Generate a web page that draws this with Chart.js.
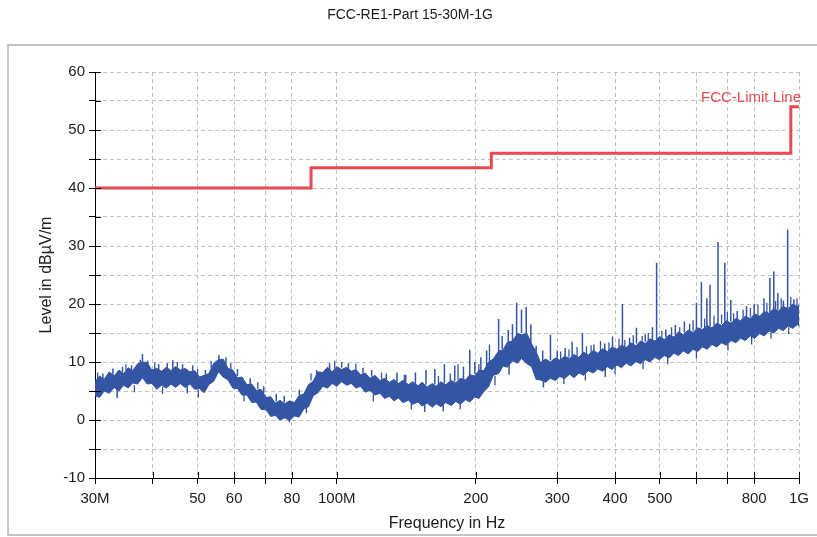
<!DOCTYPE html>
<html>
<head>
<meta charset="utf-8">
<script src="https://cdn.jsdelivr.net/npm/chart.js@4.4.1/dist/chart.umd.min.js"></script>
<style>
  html, body { margin: 0; padding: 0; background: #fff; }
  #wrap { position: relative; width: 817px; height: 537px; }
</style>
</head>
<body>
<div id="wrap"><canvas id="chart"></canvas></div>
<script>
const chartTitle = "FCC-RE1-Part 15-30M-1G";
const limitName = "FCC-Limit Line";

// x axis ticks (MHz) and their labels
const xTickValues = [30, 40, 50, 60, 70, 80, 100, 200, 300, 400, 500, 600, 700, 800, 1000];
const xTickLabels = ["30M", "", "50", "60", "", "80", "100M", "200", "300", "400", "500", "", "", "800", "1G"];

// limit line, stepped
const limitFreqs = [30, 88, 216, 960, 1000];
const limitLevels = [40, 43.5, 46, 54, 54];

// measured trace: lower and upper edge of the noise band
const freqMHz = [
  30, 30.7, 31.4, 32.2, 33.0, 33.8, 34.6, 35.4, 36.2, 37.1,
  38.0, 38.9, 39.8, 40.8, 41.8, 42.8, 43.8, 44.8, 45.9, 47.0,
  48.1, 49.3, 50.5, 51.7, 52.9, 54.2, 55.5, 56.8, 58.2, 59.6,
  61.0, 62.4, 63.9, 65.5, 67.0, 68.6, 70.3, 72.0, 73.7, 75.4,
  77.2, 79.1, 81.0, 82.9, 84.9, 86.9, 89.0, 91.1, 93.3, 95.5,
  97.8, 100, 102.5, 105, 107.5, 110, 112.6, 115.3, 118, 121,
  124, 127, 130, 133, 136, 139, 143, 146, 150, 153,
  157, 161, 164, 168, 172, 177, 181, 185, 190, 194,
  199, 203, 208, 213, 218, 224, 229, 234, 240, 246,
  251, 258, 264, 270, 276, 283, 290, 297, 304, 311,
  319, 326, 334, 342, 350, 359, 367, 376, 385, 394,
  404, 413, 423, 433, 444, 454, 465, 476, 488, 499,
  511, 524, 536, 549, 562, 576, 590, 604, 618, 633,
  648, 664, 680, 696, 713, 730, 747, 765, 784, 802,
  822, 841, 861, 882, 903, 925, 947, 970, 993, 1000
];
const bandLow = [
  4.2, 3.9, 5.0, 4.6, 5.6, 5.0, 6.0, 5.5, 6.4, 6.2,
  7.3, 6.2, 6.3, 5.3, 6.0, 5.5, 6.2, 5.6, 6.3, 5.6,
  6.2, 5.3, 5.4, 4.7, 6.1, 6.7, 8.3, 7.4, 6.9, 5.5,
  5.4, 4.3, 4.3, 3.0, 3.1, 1.8, 1.8, 0.6, 0.8, 0.0,
  0.4, -0.1, 0.7, 0.5, 1.9, 2.3, 4.2, 4.7, 5.8, 5.5,
  6.3, 5.8, 6.6, 6.0, 6.3, 5.5, 5.8, 4.8, 5.1, 4.3,
  4.6, 3.7, 4.1, 3.3, 3.8, 3.0, 3.4, 2.7, 3.1, 2.4,
  2.9, 2.2, 2.8, 2.3, 3.0, 2.5, 3.2, 2.7, 3.5, 3.1,
  4.0, 3.7, 4.9, 5.7, 7.7, 8.0, 9.3, 9.1, 10.2, 9.8,
  10.6, 9.7, 9.2, 7.0, 6.9, 6.5, 7.2, 6.8, 7.5, 7.1,
  7.9, 7.3, 8.1, 7.7, 8.5, 8.1, 8.8, 8.4, 9.2, 8.7,
  9.5, 9.0, 9.8, 9.3, 10.1, 9.7, 10.4, 10.0, 10.8, 10.4,
  11.1, 10.7, 11.5, 11.1, 11.9, 11.4, 12.2, 11.8, 12.6, 12.2,
  13.0, 12.6, 13.3, 12.9, 13.7, 13.3, 14.1, 13.7, 14.5, 14.1,
  14.9, 14.5, 15.3, 15.0, 15.8, 15.4, 16.2, 15.8, 16.5, 16.1
];
const bandHigh = [
  6.6, 7.6, 7.0, 8.3, 7.6, 8.6, 8.0, 9.0, 8.5, 9.7,
  10.0, 9.9, 8.6, 8.9, 8.4, 9.1, 8.5, 9.2, 8.6, 8.9,
  8.3, 8.5, 7.4, 7.7, 8.0, 9.8, 10.4, 10.5, 8.9, 8.6,
  7.3, 7.4, 6.1, 6.2, 5.1, 5.3, 3.9, 4.0, 2.9, 3.4,
  2.8, 3.3, 3.0, 4.2, 4.5, 6.1, 6.7, 8.3, 8.2, 9.1,
  8.3, 9.2, 8.7, 9.1, 8.4, 8.7, 7.8, 8.1, 7.2, 7.7,
  6.8, 7.2, 6.5, 7.0, 6.3, 6.8, 6.1, 6.6, 5.9, 6.5,
  5.7, 6.3, 5.8, 6.6, 6.1, 6.8, 6.4, 7.2, 6.9, 7.8,
  7.6, 8.6, 8.5, 10.0, 10.5, 11.9, 12.1, 13.4, 13.6, 14.9,
  14.7, 14.9, 13.1, 11.8, 9.9, 10.5, 10.0, 10.7, 10.3, 11.0,
  10.6, 11.3, 10.8, 11.7, 11.2, 12.0, 11.5, 12.3, 11.8, 12.6,
  12.2, 12.9, 12.5, 13.3, 12.8, 13.6, 13.2, 14.0, 13.6, 14.4,
  13.9, 14.7, 14.3, 15.2, 14.7, 15.5, 15.1, 15.9, 15.6, 16.3,
  15.9, 16.7, 16.3, 17.1, 16.7, 17.5, 17.1, 17.9, 17.5, 18.3,
  17.9, 18.7, 18.4, 19.2, 18.8, 19.6, 19.2, 20.0, 19.6, 19.9
];

// narrow emissions: frequency, level where the line leaves the band, tip level
const spikeFreqs = [
  31.2, 32.8, 33.5, 34.4, 36.0, 37.6, 38.0, 39.0, 41.2, 43.0,
  44.2, 46.4, 47.5, 48.8, 52.0, 55.6, 57.6, 61.0, 65.0, 69.5,
  74.0, 77.0, 79.0, 83.0, 90.5, 96.5, 102.5, 106, 114, 119,
  128, 135, 141, 148, 155, 156, 163, 170, 171, 180,
  188, 194, 199, 205, 211, 224, 228, 235, 236, 240,
  245, 251, 257, 263, 270, 279, 280, 290, 300, 312,
  323, 340, 360, 380, 381, 395, 415, 430, 445, 465,
  482, 492, 515, 540, 565, 600, 615, 632, 642, 668,
  691, 712, 735, 770, 800, 840, 865, 882, 900, 925,
  945, 975
];
const spikeBases = [
  6.8, 7.8, 5.3, 8.2, 8.4, 9.2, 9.8, 9.0, 8.4, 8.6,
  8.7, 8.5, 5.9, 8.4, 7.5, 10.2, 9.6, 7.6, 6.0, 4.6,
  3.2, 3.0, 0.2, 4.0, 7.6, 8.7, 9.0, 8.8, 8.0, 7.5,
  6.8, 6.6, 6.5, 6.3, 2.6, 6.1, 6.1, 2.6, 6.4, 6.7,
  7.0, 7.5, 7.9, 8.5, 9.4, 11.8, 12.2, 13.2, 9.6, 13.6,
  14.6, 15.0, 14.6, 13.0, 11.0, 10.1, 6.7, 10.3, 10.5, 10.8,
  10.9, 11.3, 11.7, 12.0, 8.8, 12.3, 12.7, 12.9, 13.2, 13.5,
  13.8, 14.0, 14.3, 14.7, 15.1, 15.7, 15.9, 16.1, 16.2, 16.5,
  16.8, 17.0, 17.3, 17.7, 18.0, 18.3, 18.6, 18.8, 19.0, 19.2,
  19.3, 19.6
];
const spikePeaks = [
  8.0, 8.9, 3.8, 9.2, 9.4, 10.4, 11.4, 10.2, 9.6, 9.8,
  10.3, 9.6, 4.6, 9.4, 8.6, 11.2, 10.8, 8.8, 7.2, 5.8,
  4.5, 4.2, -0.4, 5.2, 8.6, 9.8, 10.0, 9.8, 9.0, 8.6,
  8.0, 8.2, 7.8, 8.2, 1.4, 8.6, 8.8, 1.5, 9.6, 9.4,
  9.2, 12.1, 10.0, 10.8, 12.0, 17.4, 14.5, 15.5, 7.8, 16.5,
  20.2, 19.0, 19.5, 16.5, 12.8, 12.0, 5.6, 14.7, 12.0, 12.4,
  13.5, 15.0, 13.0, 13.2, 7.4, 14.4, 20.0, 14.2, 15.9, 14.8,
  16.0, 27.1, 15.6, 16.4, 17.0, 20.2, 23.8, 21.0, 23.3, 30.7,
  27.1, 20.7, 18.8, 19.6, 20.0, 21.0, 24.5, 25.6, 21.9, 20.6,
  32.8, 20.8
];

// short noise hairs along the band edges: frequency, start level, tip level
const hairFreqs = [
  30.4, 35.0, 36.5, 40.4, 42.0, 45.2, 50.0, 50.2, 53.5, 59.0,
  63.0, 67.5, 86.0, 88.0, 99.0, 110, 120, 125, 140, 145,
  166, 176, 183, 185, 203, 214, 220,
  305, 310, 318, 331, 345, 347, 355, 372, 388, 400, 408,
  420, 438, 458, 460, 472, 505, 520, 530, 552, 580, 590,
  600, 625, 655, 680, 700, 702, 722, 757, 785, 790, 815,
  852, 870, 890, 915, 950, 960, 990
];
const hairBases = [
  7.0, 8.5, 6.0, 8.7, 5.7, 8.8, 7.6, 5.2, 9.0, 8.7,
  4.4, 5.3, 2.5, 6.8, 8.9, 8.5, 4.5, 7.0, 6.6, 3.0,
  6.2, 6.5, 7.0, 3.0, 8.3, 10.0, 7.6,
  10.4, 7.3, 10.8, 10.9, 7.9, 11.3, 11.5, 11.8, 12.0, 9.1, 12.4,
  12.6, 12.9, 13.3, 10.0, 13.6, 14.1, 10.9, 14.4, 14.8, 15.2, 15.4,
  11.9, 15.9, 16.3, 16.6, 16.9, 13.2, 17.1, 17.5, 17.8, 14.3, 18.1,
  18.5, 15.1, 18.9, 19.1, 16.0, 19.5, 19.8
];
const hairTips = [
  8.2, 9.6, 4.8, 9.9, 4.5, 10.0, 8.8, 3.9, 10.2, 9.8,
  3.2, 6.5, 1.2, 8.0, 10.2, 9.7, 3.2, 8.2, 7.8, 1.8,
  7.6, 8.0, 9.6, 1.8, 9.6, 13.0, 6.0,
  11.8, 6.2, 12.2, 12.6, 6.8, 12.7, 12.9, 13.6, 13.4, 7.9, 14.0,
  13.8, 14.6, 14.5, 8.8, 15.0, 15.4, 9.6, 16.0, 16.0, 16.6, 17.2,
  10.6, 17.5, 18.0, 18.2, 18.6, 12.0, 18.4, 19.0, 19.3, 13.0, 19.9,
  20.2, 14.0, 20.5, 21.0, 14.8, 21.2, 21.0
];

const traceColor = "#3454a4";
const limitColor = "#e84a52";
const gridColor = "#c2c2c2";
const textColor = "#1c1c1c";

Chart.defaults.font.family = "'Liberation Sans', Arial, sans-serif";

function segments(freqs, from, to) {
  const pts = [];
  freqs.forEach((f, i) => {
    pts.push({ x: f, y: from[i] });
    pts.push({ x: f, y: to[i] });
    pts.push({ x: f, y: null });
  });
  return pts;
}

const lowPoints = freqMHz.map((f, i) => ({ x: f, y: bandLow[i] }));
const highPoints = freqMHz.map((f, i) => ({ x: f, y: bandHigh[i] }));
const limitPoints = limitFreqs.map((f, i) => ({ x: f, y: limitLevels[i] }));

const decor = {
  id: "decor",
  beforeDraw(chart) {
    const ctx = chart.ctx;
    ctx.save();
    ctx.fillStyle = "#fff";
    ctx.fillRect(0, 0, chart.width, chart.height);
    ctx.strokeStyle = "#c4c4c4";
    ctx.lineWidth = 2;
    ctx.beginPath();
    ctx.moveTo(chart.width + 5, 45);
    ctx.lineTo(8, 45);
    ctx.lineTo(8, 535);
    ctx.lineTo(chart.width + 5, 535);
    ctx.stroke();
    ctx.fillStyle = textColor;
    ctx.font = "14px 'Liberation Sans', Arial, sans-serif";
    ctx.textAlign = "center";
    ctx.textBaseline = "middle";
    ctx.fillText(chartTitle, 410, 15);
    ctx.restore();
  },
  afterDraw(chart) {
    const ctx = chart.ctx;
    const xs = chart.scales.x, ys = chart.scales.y, area = chart.chartArea;
    ctx.save();
    // inner half of the crossing tick marks
    ctx.strokeStyle = "#000";
    ctx.lineWidth = 1;
    ctx.beginPath();
    ys.ticks.forEach(t => {
      const py = Math.round(ys.getPixelForValue(t.value)) + 0.5;
      ctx.moveTo(area.left, py);
      ctx.lineTo(area.left + 6, py);
    });
    xs.ticks.forEach(t => {
      const px = Math.round(xs.getPixelForValue(t.value)) + 0.5;
      ctx.moveTo(px, area.bottom);
      ctx.lineTo(px, area.bottom - 6);
    });
    ctx.stroke();
    // limit line name
    ctx.fillStyle = limitColor;
    ctx.font = "15px 'Liberation Sans', Arial, sans-serif";
    ctx.textAlign = "right";
    ctx.textBaseline = "alphabetic";
    ctx.fillText(limitName, area.right + 2, ys.getPixelForValue(limitLevels[limitLevels.length - 1]) - 5);
    ctx.restore();
  }
};

new Chart(document.getElementById("chart"), {
  type: "line",
  data: {
    datasets: [
      { data: lowPoints, borderColor: traceColor, borderWidth: 1, pointRadius: 0, fill: false },
      { data: highPoints, borderColor: traceColor, borderWidth: 1, pointRadius: 0, fill: "-1", backgroundColor: traceColor },
      { data: segments(hairFreqs, hairBases, hairTips), borderColor: traceColor, borderWidth: 1.3, pointRadius: 0, fill: false, spanGaps: false },
      { data: segments(spikeFreqs, spikeBases, spikePeaks), borderColor: traceColor, borderWidth: 1.5, pointRadius: 0, fill: false, spanGaps: false },
      { data: limitPoints, borderColor: limitColor, borderWidth: 3, pointRadius: 0, fill: false, stepped: "before" }
    ]
  },
  options: {
    responsive: true,
    maintainAspectRatio: false,
    animation: false,
    events: [],
    layout: { padding: { left: 0, top: 72, right: 18, bottom: 0 } },
    plugins: { legend: { display: false }, tooltip: { enabled: false }, title: { display: false } },
    scales: {
      x: {
        type: "logarithmic",
        min: 30,
        max: 1000,
        afterBuildTicks: s => { s.ticks = xTickValues.map(v => ({ value: v })); },
        afterFit: s => { s.height = 59; },
        ticks: {
          autoSkip: false, maxRotation: 0, padding: 6, color: textColor,
          font: { size: 15 },
          callback: (v, i) => xTickLabels[i]
        },
        grid: { color: gridColor, tickColor: "#000", tickLength: 6, lineWidth: 1 },
        border: { color: "#000", width: 1, dash: [4, 3] },
        title: { display: true, text: "Frequency in Hz", color: textColor, font: { size: 16 }, padding: { top: 0, bottom: 4 } }
      },
      y: {
        min: -10,
        max: 60,
        afterFit: s => { s.width = 95; },
        ticks: {
          stepSize: 5, autoSkip: false, padding: 4, color: textColor,
          font: { size: 15 },
          callback: v => (v % 10 === 0 ? String(v) : "")
        },
        grid: { color: gridColor, tickColor: "#000", tickLength: 6, lineWidth: 1 },
        border: { color: "#000", width: 1, dash: [4, 3] },
        title: { display: true, text: "Level in dBµV/m", color: textColor, font: { size: 16 }, padding: { top: 37, bottom: 0 } }
      }
    }
  },
  plugins: [decor]
});
</script>
</body>
</html>
